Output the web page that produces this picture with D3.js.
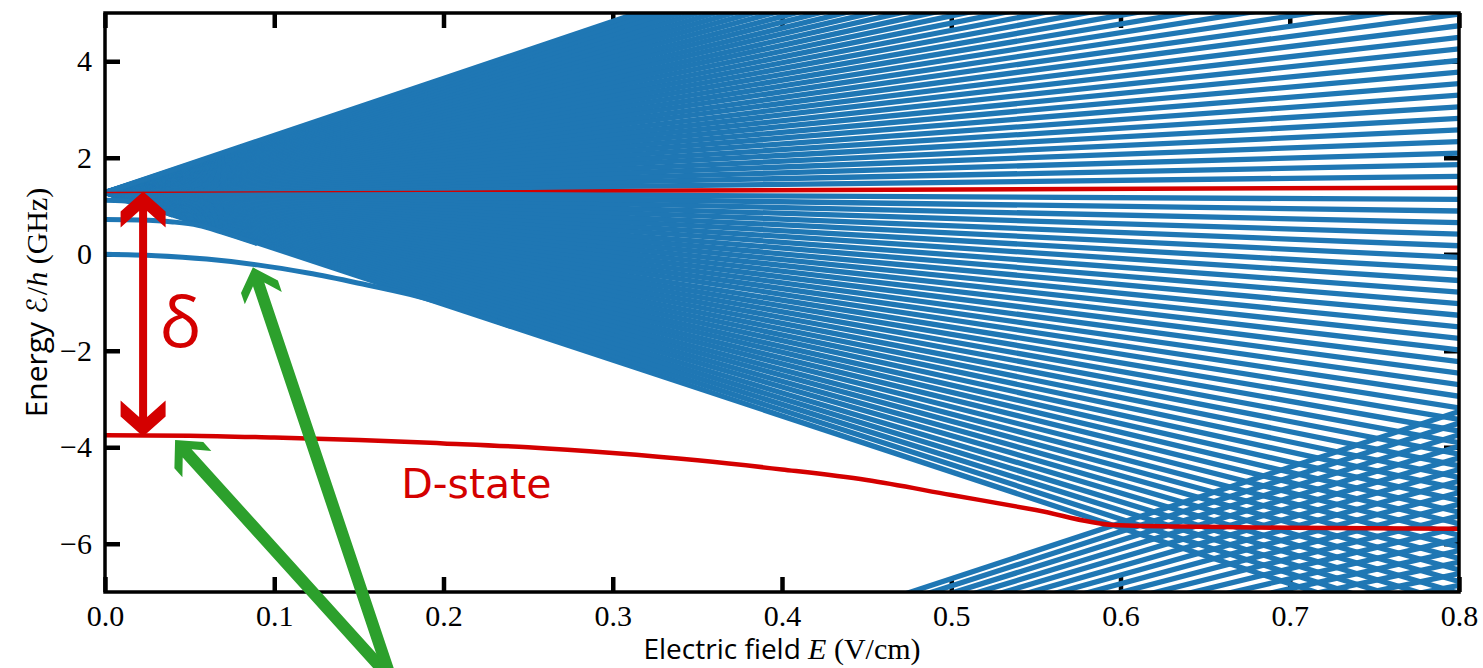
<!DOCTYPE html>
<html>
<head>
<meta charset="utf-8">
<title>Stark map</title>
<script src="https://cdn.jsdelivr.net/npm/d3@7"></script>
<style>
  body { margin: 0; background: #fff; }
  .tick line { stroke: #000; stroke-width: 4.5; }
  .tick text { font-family: "Liberation Serif", serif; font-size: 30px; fill: #000; }
</style>
</head>
<body>
<div id="chart"></div>
<script>
// axis ticks
var fieldTicks = [0.0, 0.1, 0.2, 0.3, 0.4, 0.5, 0.6, 0.7, 0.8];
var energyTicks = [-6, -4, -2, 0, 2, 4];

// upper Stark manifold: zero-field energy (GHz) and slopes (GHz per V/cm)
var upperZero = 1.28;
var upperSlopes = [-11.58, -11.28, -10.98, -10.68, -10.38, -10.08, -9.78, -9.48, -9.18, -8.88,
  -8.58, -8.28, -7.98, -7.68, -7.38, -7.08, -6.78, -6.48, -6.18, -5.88,
  -5.58, -5.28, -4.98, -4.68, -4.38, -4.08, -3.78, -3.48, -3.18, -2.88,
  -2.58, -2.28, -1.98, -1.68, -1.38, -1.08, -0.78, -0.48, -0.18,
  0.42, 0.72, 1.02, 1.32, 1.62, 1.92, 2.22, 2.52, 2.82, 3.12,
  3.42, 3.72, 4.02, 4.32, 4.62, 4.92, 5.22, 5.52, 5.82, 6.12,
  6.42, 6.72, 7.02, 7.32, 7.62, 7.92, 8.22, 8.52, 8.82, 9.12,
  9.42, 9.72, 10.02, 10.32, 10.62, 10.92, 11.22, 11.52, 11.82];

// lower manifold (only the upward going members reach the window)
var lowerZero = -12.5;
var lowerSlopes = [11.55, 11.25, 10.95, 10.65, 10.35, 10.05, 9.75, 9.45, 9.15,
  8.85, 8.55, 8.25, 7.95, 7.65, 7.35, 7.05, 6.75];

// low-l states that join the manifold, [field, energy]
var lowL1 = [[0, 1.12], [0.01, 1.11], [0.02, 1.05], [0.03, 0.94], [0.04, 0.81]];
var lowL2 = [[0, 0.72], [0.02, 0.71], [0.04, 0.67], [0.055, 0.6], [0.07, 0.45], [0.09, 0.22]];
var lowL3 = [[0, 0.0], [0.03, -0.03], [0.06, -0.1], [0.09, -0.22], [0.12, -0.39],
  [0.15, -0.6], [0.18, -0.83], [0.2, -1.02], [0.24, -1.5]];

// highlighted states
var targetState = [[0, 1.28], [0.8, 1.38]];
var dState = [[0, -3.75], [0.05, -3.76], [0.1, -3.8], [0.15, -3.85], [0.2, -3.92],
  [0.25, -4.0], [0.3, -4.12], [0.35, -4.27], [0.4, -4.46], [0.45, -4.68],
  [0.5, -4.99], [0.55, -5.3], [0.596, -5.61], [0.65, -5.65], [0.7, -5.67], [0.8, -5.69]];

var blue = "#1f77b4", red = "#d40000", green = "#2ca02c";

var margin = {top: 13, right: 24, bottom: 76, left: 105},
    width = 1483 - margin.left - margin.right,
    height = 668 - margin.top - margin.bottom;

var svg = d3.select("#chart")
  .append("svg")
    .attr("width", width + margin.left + margin.right)
    .attr("height", height + margin.top + margin.bottom)
  .append("g")
    .attr("transform", "translate(" + margin.left + "," + margin.top + ")");

var x = d3.scaleLinear().domain([0, 0.8]).range([0, width]);
var y = d3.scaleLinear().domain([-7, 5]).range([height, 0]);

svg.append("clipPath").attr("id", "plotclip")
  .append("rect").attr("width", width).attr("height", height);

// ticks first, the curves cover them
svg.append("g")
  .attr("transform", "translate(0," + height + ")")
  .call(d3.axisBottom(x).tickValues(fieldTicks).tickFormat(d3.format(".1f")).tickSize(-15).tickPadding(13))
  .call(function(g) { g.select(".domain").remove(); });
svg.append("g")
  .call(d3.axisTop(x).tickValues(fieldTicks).tickFormat("").tickSize(-15))
  .call(function(g) { g.select(".domain").remove(); });
svg.append("g")
  .call(d3.axisLeft(y).tickValues(energyTicks).tickSize(-15).tickPadding(13))
  .call(function(g) { g.select(".domain").remove(); });
svg.append("g")
  .attr("transform", "translate(" + width + ",0)")
  .call(d3.axisRight(y).tickValues(energyTicks).tickFormat("").tickSize(-15))
  .call(function(g) { g.select(".domain").remove(); });
svg.selectAll(".tick text").attr("font-family", null).attr("font-size", null);

var line = d3.line()
  .x(function(d) { return x(d[0]); })
  .y(function(d) { return y(d[1]); });

var plot = svg.append("g").attr("clip-path", "url(#plotclip)");

// target state sits under the manifold lines
plot.append("path").datum(targetState)
  .attr("d", line).attr("fill", "none").attr("stroke", red).attr("stroke-width", 4.5);

function fan(zero, slopes) {
  return slopes.map(function(s) { return [[0, zero], [0.8, zero + s * 0.8]]; });
}

plot.selectAll(".upper")
  .data(fan(upperZero, upperSlopes))
  .enter().append("path")
    .attr("class", "upper")
    .attr("d", line).attr("fill", "none")
    .attr("stroke", blue).attr("stroke-width", 5.3);

plot.selectAll(".lower")
  .data(fan(lowerZero, lowerSlopes))
  .enter().append("path")
    .attr("class", "lower")
    .attr("d", line).attr("fill", "none")
    .attr("stroke", blue).attr("stroke-width", 5.3);

plot.selectAll(".lowl")
  .data([lowL1, lowL2, lowL3])
  .enter().append("path")
    .attr("class", "lowl")
    .attr("d", line.curve(d3.curveMonotoneX)).attr("fill", "none")
    .attr("stroke", blue).attr("stroke-width", 5);

// thin trace of the target state on top
plot.append("path").datum(targetState)
  .attr("d", line.curve(d3.curveLinear)).attr("fill", "none").attr("stroke", red).attr("stroke-width", 1.3);

plot.append("path").datum(dState)
  .attr("d", line.curve(d3.curveMonotoneX)).attr("fill", "none")
  .attr("stroke", red).attr("stroke-width", 4.5);

// frame
svg.append("rect")
  .attr("width", width).attr("height", height)
  .attr("fill", "none").attr("stroke", "#000").attr("stroke-width", 3.5);

// axis labels
svg.append("text")
  .attr("x", width / 2).attr("y", height + 67)
  .attr("text-anchor", "middle")
  .style("font-size", "28px")
  .call(function(t) {
    t.append("tspan").style("font-family", "'Open Sans', sans-serif").text("Electric field ");
    t.append("tspan").style("font-family", "'Liberation Serif', serif").style("font-style", "italic").style("font-size", "30px").text("E");
    t.append("tspan").style("font-family", "'Liberation Serif', serif").style("font-size", "30px").text(" (V/cm)");
  });

svg.append("text")
  .attr("transform", "translate(" + (47 - margin.left) + "," + (height / 2) + ") rotate(-90)")
  .attr("text-anchor", "middle")
  .style("font-size", "30px")
  .call(function(t) {
    t.append("tspan").style("font-family", "'Open Sans', sans-serif").text("Energy ");
    t.append("tspan").style("font-family", "'DejaVu Sans', sans-serif").style("font-size", "28px").text("\u2130");
    t.append("tspan").style("font-family", "'Liberation Serif', serif").attr("dx", 2).text("/");
    t.append("tspan").style("font-family", "'Liberation Serif', serif").style("font-style", "italic").text("h");
    t.append("tspan").style("font-family", "'Liberation Serif', serif").text(" (GHz)");
  });

// arrow outline: tip at b, tail at a; head on b (and on a when both)
function arrowPath(a, b, h, W, L1, L2, L3, both) {
  var dx = b[0] - a[0], dy = b[1] - a[1], len = Math.sqrt(dx * dx + dy * dy);
  var ux = dx / len, uy = dy / len, vx = -uy, vy = ux;
  function p(along, across) {
    return [b[0] + along * ux + across * vx, b[1] + along * uy + across * vy];
  }
  var pts = [p(0, 0), p(-L1, W), p(-L2, W), p(-L3, h)];
  if (both) {
    pts.push(p(-(len - L3), h), p(-(len - L2), W), p(-(len - L1), W), p(-len, 0),
             p(-(len - L1), -W), p(-(len - L2), -W), p(-(len - L3), -h));
  } else {
    pts.push(p(-len, h), p(-len, -h));
  }
  pts.push(p(-L3, -h), p(-L2, -W), p(-L1, -W));
  return "M" + pts.map(function(q) { return q[0].toFixed(1) + "," + q[1].toFixed(1); }).join("L") + "Z";
}

// detuning arrow between the two red states
svg.append("path")
  .attr("d", arrowPath([x(0.0225), y(-3.78)], [x(0.0225), y(1.30)], 4, 22.5, 20, 36, 19.6, true))
  .attr("fill", red);

svg.append("text")
  .attr("x", x(0.0446)).attr("y", y(-1.92))
  .attr("text-anchor", "middle")
  .style("font-family", "'Open Sans', sans-serif").style("font-size", "70px")
  .attr("fill", red).text("\u03b4");

svg.append("text")
  .attr("x", x(0.175)).attr("y", y(-5.05))
  .style("font-family", "'DejaVu Sans', sans-serif").style("font-size", "41px")
  .attr("fill", red).text("D-state");

// green pointers, coming from below the axes
var tail = [x(0.169), y(-8.8)];
[[0.0414, -3.85], [0.0874, -0.27]].forEach(function(tip) {
  svg.append("path")
    .attr("d", arrowPath(tail, [x(tip[0]), y(tip[1])], 6, 19.5, 20.5, 32.5, 18, false))
    .attr("fill", green);
});
</script>
</body>
</html>
